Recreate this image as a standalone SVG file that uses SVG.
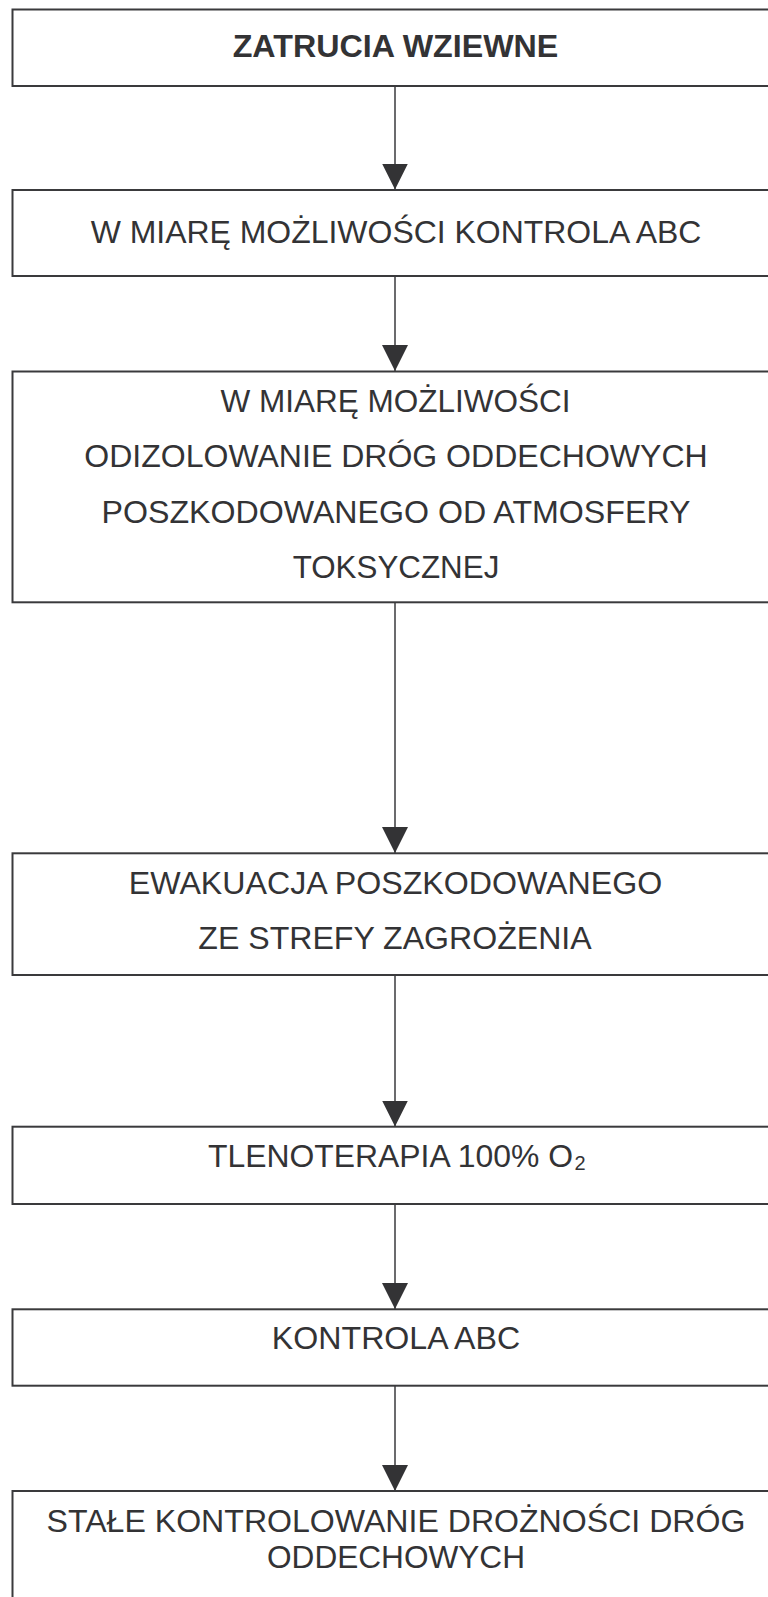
<svg xmlns="http://www.w3.org/2000/svg" width="768" height="1597" viewBox="0 0 768 1597">
<style>
.box{fill:#ffffff;stroke:#3a3a3c;stroke-width:2}
.t{font-family:"Liberation Sans",Arial,sans-serif;font-size:31px;fill:#333335;text-anchor:middle}
.b{font-weight:bold}
.c{stroke:#3a3a3c;stroke-width:1.5;fill:none;marker-end:url(#ah)}
</style>
<defs>
<marker id="ah" markerUnits="userSpaceOnUse" markerWidth="26" markerHeight="26" viewBox="0 0 26 26" refX="26" refY="13" orient="auto">
<path d="M0,0 L26,13 L0,26 z" fill="#333335"/>
</marker>
</defs>
<rect width="768" height="1597" fill="#ffffff"/>
<g id="connectors">
<line class="c" x1="395" y1="86" x2="395" y2="189.5"/>
<line class="c" x1="395" y1="276" x2="395" y2="371"/>
<line class="c" x1="395" y1="602.3" x2="395" y2="853"/>
<line class="c" x1="395" y1="975" x2="395" y2="1126.5"/>
<line class="c" x1="395" y1="1204" x2="395" y2="1309"/>
<line class="c" x1="395" y1="1385.7" x2="395" y2="1491"/>
</g>
<g id="n1">
<rect class="box" x="12.5" y="9.5" width="780" height="76.5"/>
<text class="t b" x="395.5" y="57.3" textLength="325.7" lengthAdjust="spacingAndGlyphs">ZATRUCIA WZIEWNE</text>
</g>
<g id="n2">
<rect class="box" x="12.5" y="190" width="780" height="86"/>
<text class="t" x="396" y="243.3" textLength="610.7" lengthAdjust="spacingAndGlyphs">W MIARĘ MOŻLIWOŚCI KONTROLA ABC</text>
</g>
<g id="n3">
<rect class="box" x="12.5" y="371.5" width="780" height="230.8"/>
<text class="t" x="395.5" y="412.3" textLength="350" lengthAdjust="spacingAndGlyphs">W MIARĘ MOŻLIWOŚCI</text>
<text class="t" x="396" y="467" textLength="623.4" lengthAdjust="spacingAndGlyphs">ODIZOLOWANIE DRÓG ODDECHOWYCH</text>
<text class="t" x="396" y="523" textLength="589" lengthAdjust="spacingAndGlyphs">POSZKODOWANEGO OD ATMOSFERY</text>
<text class="t" x="396" y="577.7" textLength="206.7" lengthAdjust="spacingAndGlyphs">TOKSYCZNEJ</text>
</g>
<g id="n4">
<rect class="box" x="12.5" y="853.3" width="780" height="121.7"/>
<text class="t" x="395.5" y="894" textLength="533.3" lengthAdjust="spacingAndGlyphs">EWAKUACJA POSZKODOWANEGO</text>
<text class="t" x="395" y="949" textLength="393.3" lengthAdjust="spacingAndGlyphs">ZE STREFY ZAGROŻENIA</text>
</g>
<g id="n5">
<rect class="box" x="12.5" y="1126.7" width="780" height="77.3"/>
<text class="t" x="208" y="1167.3" style="text-anchor:start"><tspan textLength="365" lengthAdjust="spacingAndGlyphs">TLENOTERAPIA 100% O</tspan><tspan x="574.5" y="1170" font-size="20">2</tspan></text>
</g>
<g id="n6">
<rect class="box" x="12.5" y="1309.3" width="780" height="76.4"/>
<text class="t" x="396" y="1349" textLength="248.3" lengthAdjust="spacingAndGlyphs">KONTROLA ABC</text>
</g>
<g id="n7">
<rect class="box" x="12.5" y="1491" width="780" height="200"/>
<text class="t" x="396" y="1531.7" textLength="698.8" lengthAdjust="spacingAndGlyphs">STAŁE KONTROLOWANIE DROŻNOŚCI DRÓG</text>
<text class="t" x="396" y="1568.3" textLength="258" lengthAdjust="spacingAndGlyphs">ODDECHOWYCH</text>
</g>
</svg>
